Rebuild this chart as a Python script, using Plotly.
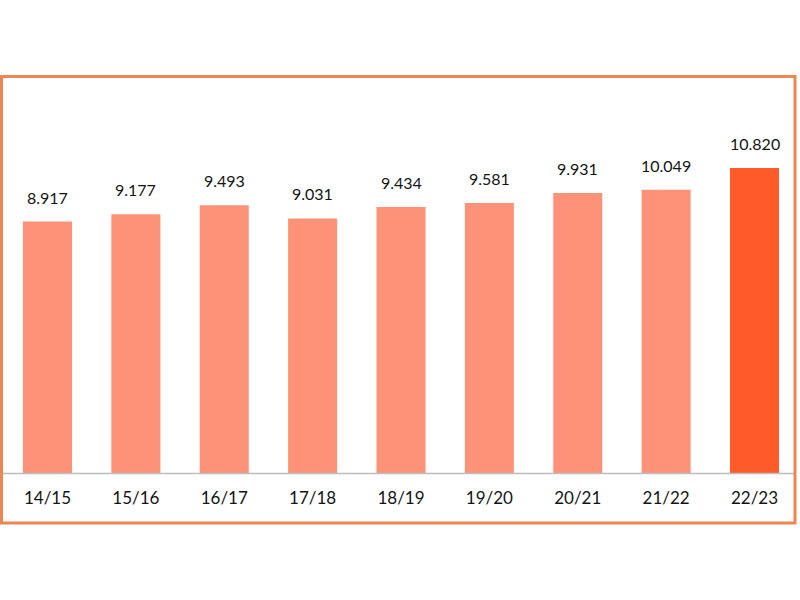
import plotly.graph_objects as go

categories = ["14/15", "15/16", "16/17", "17/18", "18/19", "19/20", "20/21", "21/22", "22/23"]
values = [8.917, 9.177, 9.493, 9.031, 9.434, 9.581, 9.931, 10.049, 10.820]
value_labels = ["8.917", "9.177", "9.493", "9.031", "9.434", "9.581", "9.931", "10.049", "10.820"]

LIGHT = "#FE9278"
DARK = "#FF5A2A"
colors = [LIGHT] * (len(categories) - 1) + [DARK]

W, H = 800, 600
ml, mr, mt, mb = 0, 0, 100, 127
pw = W - ml - mr
ph = H - mt - mb
step = 88.375
x0 = -47.5 / step
x1 = x0 + pw / step

fig = go.Figure(go.Bar(x=list(range(len(categories))), y=values,
                       marker=dict(color=colors, line=dict(width=0)), hoverinfo="skip"))

for i, (v, t) in enumerate(zip(values, value_labels)):
    fig.add_annotation(x=i, y=v, text=t, showarrow=False, yanchor="bottom", yshift=13,
                       font=dict(family="Lato", size=16, color="#141414"))

def px_x(p):
    return (p - ml) / pw

def px_y(p):
    return (H - mb - p) / ph

# baseline
fig.add_shape(type="line", xref="paper", yref="paper", x0=px_x(2), x1=px_x(795), y0=px_y(473.5), y1=px_y(473.5),
              line=dict(color="#BDBDBD", width=1.5))
# outer orange frame
fig.add_shape(type="rect", xref="paper", yref="paper", x0=px_x(1.5), x1=px_x(795), y0=px_y(523), y1=px_y(76.5),
              line=dict(color="#EE8650", width=3))

fig.update_layout(
    width=W, height=H,
    margin=dict(l=ml, r=mr, t=mt, b=mb),
    paper_bgcolor="white", plot_bgcolor="white",
    bargap=0.445,
    showlegend=False,
    hovermode=False,
    xaxis=dict(range=[x0, x1], tickmode="array", tickvals=list(range(len(categories))),
               ticktext=categories, showgrid=False, showline=False, zeroline=False, ticks="",
               tickfont=dict(family="Lato", size=17, color="#141414"), ticklabelstandoff=13),
    yaxis=dict(range=[0, 13.23], visible=False, showgrid=False, zeroline=False),
)

fig.write_html("out.html", config={"displayModeBar": False},
               post_script="document.body.style.margin='0';document.body.style.overflow='hidden';")
